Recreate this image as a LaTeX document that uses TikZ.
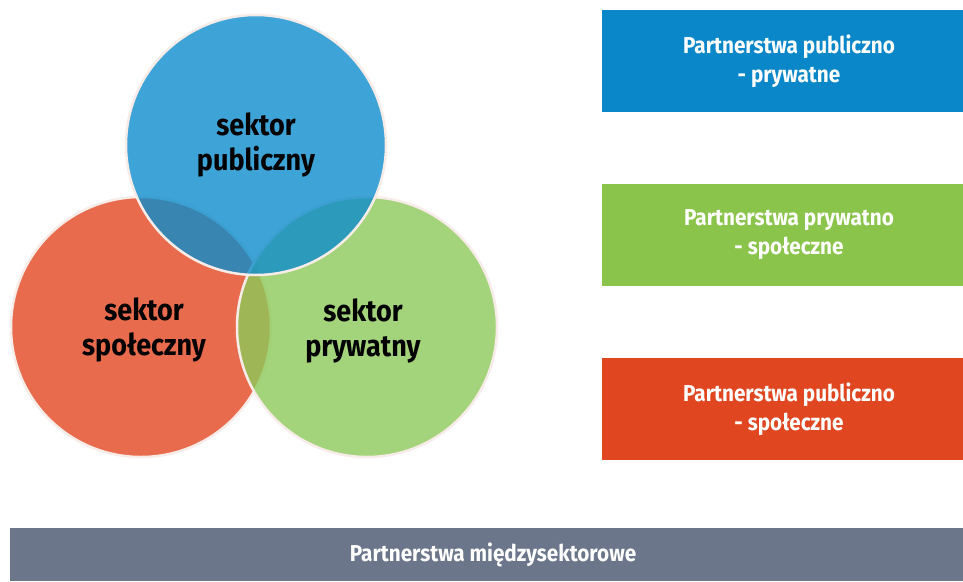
\documentclass[tikz,border=0pt]{standalone}
\usepackage{fontspec}
\newfontfamily\condA{Fira Sans}[FakeStretch=0.9]
\definecolor{cblue}{RGB}{14,140,204}
\definecolor{cgreen}{RGB}{140,201,89}
\definecolor{cred}{RGB}{230,92,58}
\definecolor{bblue}{RGB}{10,135,201}
\definecolor{bgreen}{RGB}{139,196,74}
\definecolor{bred}{RGB}{224,70,31}
\definecolor{bgrey}{RGB}{107,118,138}
\definecolor{rim}{RGB}{248,236,232}
\begin{document}
\begin{tikzpicture}[x=1pt,y=-1pt,
  sector/.style={circle,minimum size=260pt,inner sep=0pt,draw=rim,line width=2.5pt},
  stext/.style={align=center,text=black,font=\condA\bfseries\fontsize{30}{35}\selectfont},
  pbox/.style={rectangle,inner sep=0pt,align=center,text=white,
    font=\condA\bfseries\fontsize{23}{29}\selectfont}]
\useasboundingbox (0,0) rectangle (963,581);
\fill[white] (0,0) rectangle (963,581);
% circles
\node[sector,fill=cred,fill opacity=0.9] (spo) at (141,327) {};
\node[sector,fill=cgreen,fill opacity=0.8] (pry) at (367,327) {};
\node[sector,fill=cblue,fill opacity=0.8] (pub) at (256,145) {};
\node[stext] (tpub) at (pub.center) {sektor\\publiczny};
\node[stext] (tspo) at ([xshift=3pt,yshift=-3pt]spo.center) {sektor\\społeczny};
\node[stext] (tpry) at ([xshift=-4pt,yshift=-4pt]pry.center) {sektor\\prywatny};
% boxes
\fill[bblue] (602,10) rectangle (963,112);
\fill[bgreen] (602,184) rectangle (963,286);
\fill[bred] (602,358) rectangle (963,460);
\fill[bgrey] (10,528) rectangle (963,581);
\node[pbox] (b1) at (789,61) {Partnerstwa publiczno\\- prywatne};
\node[pbox] (b2) at (789,235) {Partnerstwa prywatno\\- społeczne};
\node[pbox] (b3) at (789,409) {Partnerstwa publiczno\\- społeczne};
\node[pbox] (b4) at (493,555) {Partnerstwa międzysektorowe};
\end{tikzpicture}
\end{document}
